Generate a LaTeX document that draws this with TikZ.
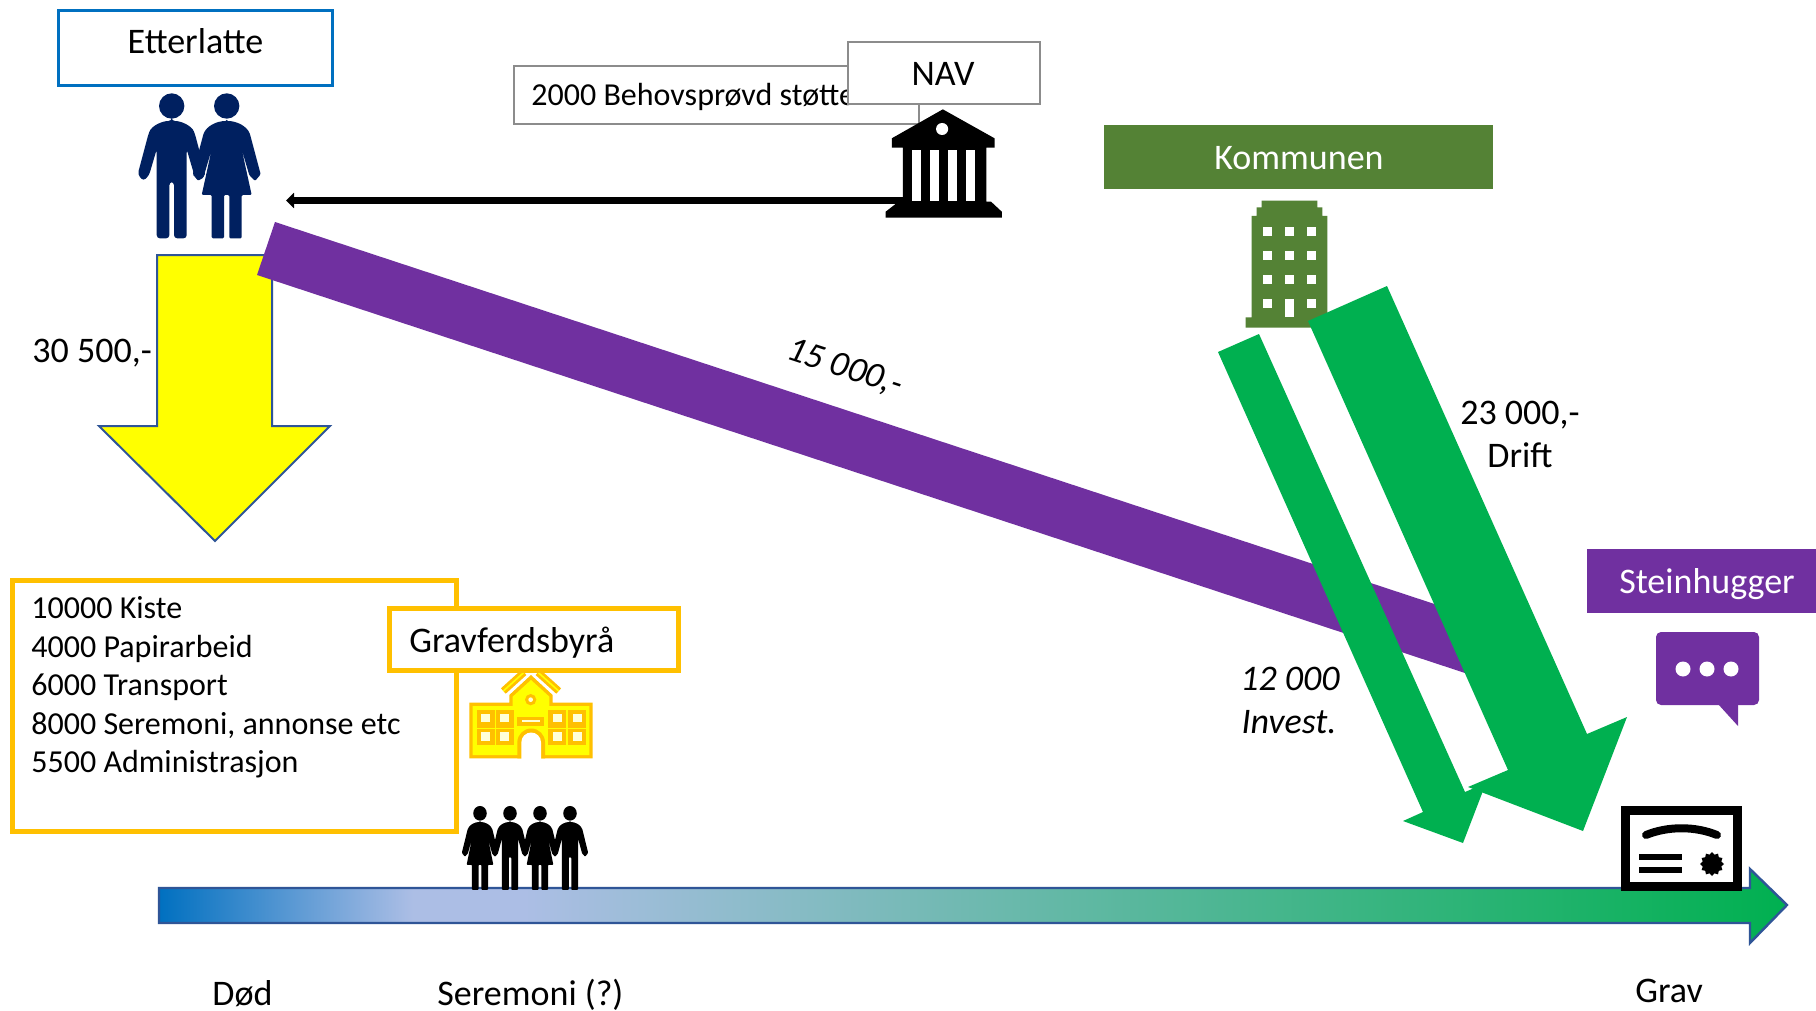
\documentclass[tikz,border=0pt]{standalone}
\usepackage{fontspec}
\setmainfont{Carlito}
\usetikzlibrary{arrows.meta,shapes.geometric}
\definecolor{navy}{HTML}{002060}
\definecolor{blueln}{HTML}{0070C0}
\definecolor{arrowln}{HTML}{2F5597}
\definecolor{gold}{HTML}{FFC000}
\definecolor{purp}{HTML}{7030A0}
\definecolor{grn}{HTML}{00B050}
\definecolor{olive}{HTML}{548235}
\definecolor{greyln}{HTML}{8C8C8C}
\definecolor{lav}{HTML}{ACBEE5}
\definecolor{pale}{HTML}{FFFFD8}
\definecolor{yel}{RGB}{255,255,0}
\pgfdeclarehorizontalshading{timegrad}{100bp}{
  color(0bp)=(blueln);
  color(25bp)=(blueln);
  color(32.8bp)=(lav);
  color(36.2bp)=(lav);
  color(75bp)=(grn);
  color(100bp)=(grn)}
\newcommand{\mansil}[1]{%
  \fill (0,0) circle (38);
  \fill[rounded corners=#1] (0,45) .. controls (-30,45) and (-60,60) .. (-70,85) -- (-102,205) -- (-85,225) -- (-68,208) -- (-45,130) -- (-45,397) -- (-7,397) -- (-7,228) -- (7,228) -- (7,397) -- (45,397) -- (45,130) -- (68,208) -- (85,225) -- (102,205) -- (70,85) .. controls (60,60) and (30,45) .. (0,45) -- cycle;}
\newcommand{\womansil}[1]{%
  \fill (0,0) circle (38);
  \fill[rounded corners=#1] (0,45) .. controls (-30,45) and (-60,60) .. (-70,85) -- (-102,205) -- (-85,225) -- (-68,208) -- (-45,130) -- (-75,267) -- (-45,267) -- (-45,397) -- (-8,397) -- (-8,267) -- (8,267) -- (8,397) -- (45,397) -- (45,267) -- (75,267) -- (45,130) -- (68,208) -- (85,225) -- (102,205) -- (70,85) .. controls (60,60) and (30,45) .. (0,45) -- cycle;}
\tikzset{
  txtl/.style={font=\fontsize{18pt}{22pt}\selectfont,anchor=base west,inner sep=0pt},
  txtc/.style={font=\fontsize{18pt}{22pt}\selectfont,anchor=base,inner sep=0pt},
  txtw/.style={txtc,text=white},
  txti/.style={txtc,font=\fontsize{18pt}{22pt}\itshape\selectfont},
  blockarrow/.style={fill=grn,draw=none},
  etterbox/.style={draw=blueln,line width=1.5pt,fill=white,anchor=north west,inner sep=0pt,minimum width=137pt,minimum height=37.5pt},
  navbox/.style={draw=greyln,line width=1pt,fill=white,anchor=north west,inner sep=0pt},
  goldbox/.style={draw=gold,line width=2.5pt,fill=white,anchor=north west,inner sep=0pt},
  fillbox/.style={draw=none,anchor=north west,inner sep=0pt},
}
\begin{document}
\begin{tikzpicture}[x=0.5pt,y=-0.5pt]
\useasboundingbox[fill=white] (0,0) rectangle (1816,1011);

% --- timeline
\path[draw=arrowln,line width=1.2pt,shading=timegrad]
  (159,888) -- (1750,888) -- (1750,869) -- (1787,905) -- (1750,943) -- (1750,923) -- (159,923) -- cycle;

% --- Etterlatte
\node[etterbox] (etter) at (57,9.5) {};
\node[txtc] (etterT) at (195.5,54) {Etterlatte};
\begin{scope}[navy,shift={(171.7,106)},scale=1/3]\mansil{1.6pt}\end{scope}
\begin{scope}[navy,shift={(226.7,106)},scale=1/3]\womansil{0.6pt}\end{scope}

% --- yellow arrow
\path[fill=yel,draw=arrowln,line width=1pt]
  (157,255) -- (272,255) -- (272,426) -- (330,426) -- (215,541) -- (99,426) -- (157,426) -- cycle;

% --- purple bar
\fill[purp] (275,222) -- (1483,620) -- (1465,673) -- (257,275) -- cycle;

% --- NAV and support
\node[navbox,minimum width=202.5pt,minimum height=29pt] (stotte) at (512.5,65) {};
\node[txtl,font=\fontsize{16pt}{20pt}\selectfont] (stotteT) at (531,105.5) {2000 Behovsprøvd støtte};
\node[navbox,minimum width=96pt,minimum height=31pt] (nav) at (847,41) {};
\node[txtc] (navT) at (943,86) {NAV};

% --- arrow from NAV to Etterlatte
\coordinate (bankL) at (930,200.5);
\coordinate (etterR) at (286,200.5);
\draw[line width=3.5pt,-{Triangle[length=4pt,width=7.5pt]}] (bankL) -- (etterR);

% --- bank icon
\begin{scope}[shift={(500,20)},xscale=1/2.8,yscale=1/3]
  \fill (1240,268) -- (1385,355) -- (1385,383) -- (1362,383) -- (1362,545) -- (1375,545) -- (1405,575) -- (1405,593) -- (1080,593) -- (1080,575) -- (1110,550) -- (1128,545) -- (1128,383) -- (1097,383) -- (1097,355) -- cycle;
  \fill[white] (1238,327) ellipse (17 and 18);
  \fill[white] (1153,390) rectangle (1178,544);
  \fill[white] (1203,390) rectangle (1228,544);
  \fill[white] (1254,390) rectangle (1280,544);
  \fill[white] (1304,390) rectangle (1330,544);
\end{scope}

% --- Kommunen
\node[fillbox,fill=olive,minimum width=194.5pt,minimum height=32pt] (komm) at (1104,125) {};
\node[txtw] (kommT) at (1299,169.5) {Kommunen};
\begin{scope}[shift={(1200,190)},scale=1/3]
  \fill[olive] (185,32) -- (352,32) -- (352,52) -- (367,52) -- (367,78) -- (382,78) -- (382,382) -- (400,382) -- (400,413) -- (137,413) -- (137,382) -- (155,382) -- (155,78) -- (170,78) -- (170,52) -- (185,52) -- cycle;
  \foreach \wx in {188,255,321}{
    \foreach \wy in {110,182,255}{
      \fill[white] (\wx,\wy) rectangle ++(28,27);
    }
  }
  \fill[white] (188,328) rectangle ++(28,26);
  \fill[white] (321,328) rectangle ++(28,26);
  \fill[white] (255,328) rectangle (282,382);
\end{scope}

% --- green arrows
\path[blockarrow] (1218,352) -- (1259,334) -- (1465,792) -- (1486,783) -- (1463,843) -- (1403,821) -- (1423,812) -- cycle;
\path[blockarrow] (1308,321) -- (1387,286) -- (1587,734) -- (1627,717) -- (1583,831) -- (1468,787) -- (1508,770) -- cycle;

% --- Steinhugger
\node[fillbox,fill=purp,minimum width=114.5pt,minimum height=32pt] (stein) at (1587,549) {};
\node[txtw] (steinT) at (1707,593) {Steinhugger};
\fill[purp,rounded corners=2.5pt] (1656,632) rectangle (1759,705);
\fill[purp] (1718,704) -- (1738,726) -- (1738,704) -- cycle;
\foreach \dx in {1683,1707,1731} \fill[white] (\dx,669) circle (7.5);

% --- certificate icon
\fill (1621,806) rectangle (1742,891);
\fill[white] (1630,815) rectangle (1733,882);
\draw[line width=4pt,line cap=round] (1646,835) .. controls (1668,826) and (1695,826) .. (1717,835);
\fill (1639,854) rectangle (1682,860);
\fill (1639,867) rectangle (1682,873);
\node[star,star points=12,star point ratio=1.25,fill=black,inner sep=0pt,minimum size=12pt] (seal) at (1712,864) {};

% --- gold list box
\node[goldbox,minimum width=222pt,minimum height=125.5pt] (liste) at (10,578) {};
\node[anchor=north west,inner sep=0pt,align=left,font=\fontsize{16pt}{19.25pt}\selectfont] (listeT) at (31,596.5) {10000 Kiste\\4000 Papirarbeid\\6000 Transport\\8000 Seremoni, annonse etc\\5500 Administrasjon};

% --- school icon
\begin{scope}[shift={(460,665)},scale=1/3]
  \draw[gold,line width=3.6pt] (130,78) -- (192,22);
  \draw[gold,line width=3.6pt] (296,78) -- (234,22);
  \draw[yel,line width=0.8pt] (130,78) -- (192,22);
  \draw[yel,line width=0.8pt] (296,78) -- (234,22);
  \fill[white] (142,92) -- (213,22) -- (284,92) -- cycle;
  \fill[gold] (28,113) -- (148,113) -- (148,90) -- (213,30) -- (278,90) -- (278,113) -- (398,113) -- (398,280) -- (28,280) -- cycle;
  \fill[yel] (38,123) -- (158,123) -- (158,95) -- (213,45) -- (268,95) -- (268,123) -- (388,123) -- (388,270) -- (38,270) -- cycle;
  \foreach \wx/\wi in {50/62,107/120,265/278,324/338}{
    \fill[gold] (\wx,135) rectangle ++(54,53);
    \fill[gold] (\wx,192) rectangle ++(54,48);
    \fill[pale] (\wi,148) rectangle ++(28,24);
    \fill[pale] (\wi,202) rectangle ++(28,26);
  }
  \fill[gold] (172,155) rectangle (253,183);
  \fill[pale] (186,165) rectangle (240,172);
  \fill[gold] (212,104) circle (17);
  \fill[pale] (212,104) circle (7);
  \fill[gold] (172,280) -- (172,232) arc (180:360:41.5) -- (255,280) -- cycle;
  \fill[white] (184,286) -- (184,232) arc (180:360:29.5) -- (243,286) -- cycle;
\end{scope}

% --- Gravferdsbyra box
\node[goldbox,minimum width=144.5pt,minimum height=31pt] (grav) at (386.5,606) {};
\node[txtl] (gravT) at (409,652) {Gravferdsbyrå};

% --- mourners
\begin{scope}[shift={(480,813.3)},xscale=0.178,yscale=0.193]\womansil{0.4pt}\end{scope}
\begin{scope}[shift={(510,813.3)},xscale=0.178,yscale=0.193]\mansil{0.4pt}\end{scope}
\begin{scope}[shift={(540,813.3)},xscale=0.178,yscale=0.193]\womansil{0.4pt}\end{scope}
\begin{scope}[shift={(570,813.3)},xscale=0.178,yscale=0.193]\mansil{0.4pt}\end{scope}

% --- labels
\node[txtl] (sum) at (32,362) {30 500,-};
\node[txti,rotate=-18.2] (n15) at (842,377) {15 000,-};
\node[txtc] (n23) at (1520,424) {23 000,-};
\node[txtc] (drift) at (1520,467) {Drift};
\node[txti] (n12) at (1290,690) {12 000};
\node[txti] (inv) at (1289,733) {Invest.};
\node[txtl] (dod) at (212,1005) {Død};
\node[txtl] (sere) at (437,1005) {Seremoni (?)};
\node[txtl] (gravst) at (1635,1002) {Grav};
\end{tikzpicture}
\end{document}
